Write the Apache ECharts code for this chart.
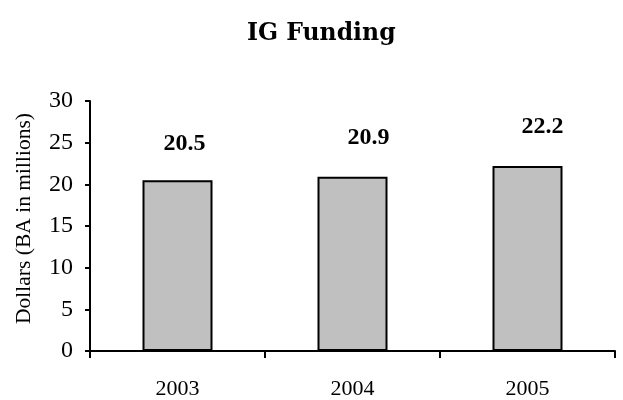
<!DOCTYPE html>
<html>
<head>
<meta charset="utf-8">
<script src="https://cdn.jsdelivr.net/npm/echarts@6/dist/echarts.min.js"></script>
<style>
  html, body { margin: 0; padding: 0; background: #fff; }
  #chart { width: 623px; height: 400px; }
</style>
</head>
<body>
<div id="chart"></div>
<script>
// chart data
const years = ['2003', '2004', '2005'];
const funding = [20.5, 20.9, 22.2];
const yTicks = [0, 5, 10, 15, 20, 25, 30];

// value labels sit a little right of each bar, as in the original
const labelShift = [[7, 2], [16, -1], [15, -1]];

const chart = echarts.init(document.getElementById('chart'));
const serif = '"Liberation Serif", "Times New Roman", serif';

chart.setOption({
    animation: false,
    backgroundColor: '#fff',
    title: {
        text: 'IG Funding',
        left: 242,
        top: 17,
        textStyle: {
            fontFamily: '"DejaVu Serif", serif',
            fontWeight: 'bold',
            fontSize: 23.5,
            color: '#000'
        }
    },
    grid: {
        left: 90,
        right: 8,
        top: 101,
        bottom: 49,
        show: false
    },
    xAxis: {
        type: 'category',
        data: years,
        boundaryGap: true,
        axisLine: { lineStyle: { color: '#000', width: 2 } },
        axisTick: { show: true, length: 7, lineStyle: { color: '#000', width: 2 } },
        axisLabel: {
            margin: 27,
            color: '#000',
            fontFamily: serif,
            fontSize: 22
        },
        splitLine: { show: false }
    },
    yAxis: {
        type: 'value',
        min: yTicks[0],
        max: yTicks[yTicks.length - 1],
        interval: 5,
        name: 'Dollars (BA in millions)',
        nameLocation: 'middle',
        nameGap: 55,
        nameTextStyle: {
            fontFamily: serif,
            fontSize: 21.5,
            color: '#000',
            padding: [0, 0, 0, 15]
        },
        axisLine: { show: true, lineStyle: { color: '#000', width: 2 } },
        axisTick: { show: true, length: 5, lineStyle: { color: '#000', width: 2 } },
        axisLabel: {
            margin: 17,
            color: '#000',
            fontFamily: serif,
            fontSize: 24
        },
        splitLine: { show: false }
    },
    series: [{
        type: 'bar',
        data: funding.map((v, i) => ({ value: v, label: { offset: labelShift[i] } })),
        barWidth: '40%',
        itemStyle: {
            color: '#c0c0c0',
            borderColor: '#000',
            borderWidth: 2
        },
        label: {
            show: true,
            position: 'top',
            distance: 26,
            color: '#000',
            fontFamily: serif,
            fontWeight: 'bold',
            fontSize: 24
        }
    }]
});
</script>
</body>
</html>
